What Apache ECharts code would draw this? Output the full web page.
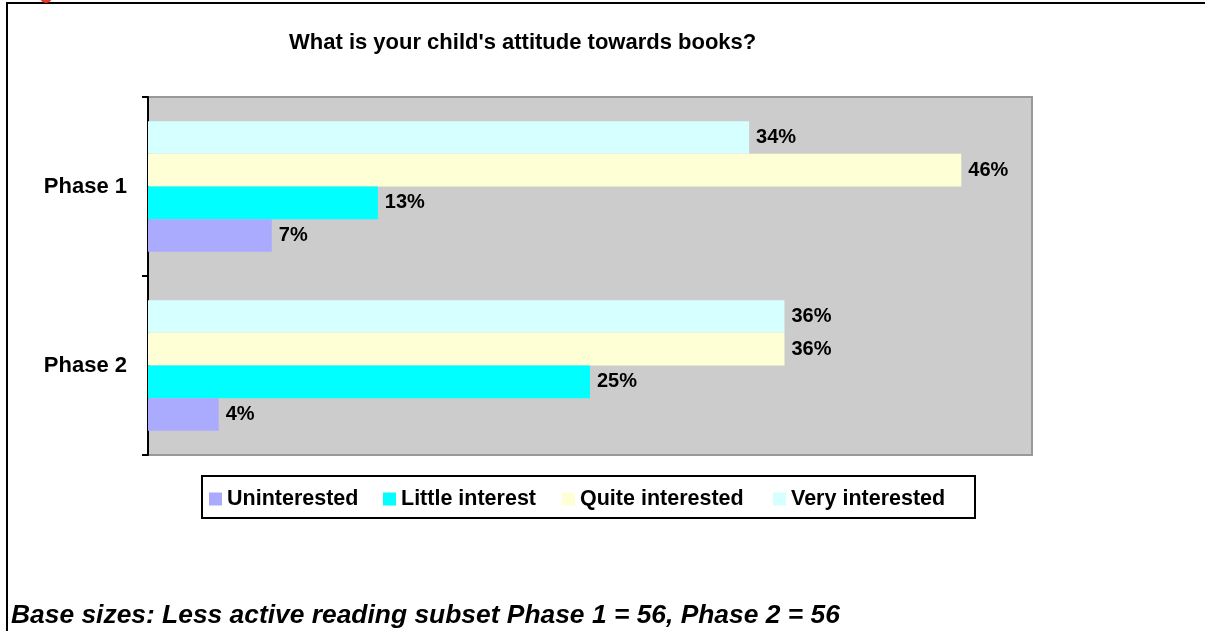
<!DOCTYPE html>
<html>
<head>
<meta charset="utf-8">
<title>What is your child's attitude towards books?</title>
<script src="https://cdn.jsdelivr.net/npm/echarts@6/dist/echarts.min.js"></script>
<style>
  html, body { margin: 0; padding: 0; background: #ffffff; }
  #chart { width: 1205px; height: 631px; }
</style>
</head>
<body>
<div id="chart"></div>
<script>
// Survey answers, percent of parents per phase
const categories = ['Phase 1', 'Phase 2'];
const seriesNames = ['Uninterested', 'Little interest', 'Quite interested', 'Very interested'];
const uninterested = [7, 4];
const littleInterest = [13, 25];
const quiteInterested = [46, 36];
const veryInterested = [34, 36];
const seriesColors = ['#AAAAFF', '#00FFFF', '#FFFFD6', '#D6FFFF'];
// left edge of each legend entry inside the legend box
const legendLefts = [209, 383, 562, 773];

const FONT = '"Liberation Sans", Arial, sans-serif';
const values = [uninterested, littleInterest, quiteInterested, veryInterested];

const chart = echarts.init(document.getElementById('chart'), null, { renderer: 'canvas' });

// the inverted category axis stacks the first series on top, so feed the
// series in reverse to keep "Uninterested" at the bottom of each group
const series = seriesNames.map((name, i) => ({
  name: name,
  type: 'bar',
  data: values[i],
  barGap: '0%',
  barCategoryGap: '27%',
  itemStyle: { color: seriesColors[i] },
  label: {
    show: true,
    position: 'right',
    distance: 7,
    formatter: '{c}%',
    color: '#000',
    fontFamily: FONT,
    fontWeight: 'bold',
    fontSize: 20
  },
  emphasis: { disabled: true },
  animation: false
})).reverse();

const legends = seriesNames.map((name, i) => ({
  data: [name],
  left: legendLefts[i],
  top: 488,
  padding: 0,
  itemWidth: 13,
  itemHeight: 13,
  icon: 'rect',
  selectedMode: false,
  textStyle: { fontFamily: FONT, fontWeight: 'bold', fontSize: 21.5, color: '#000' }
}));

chart.setOption({
  animation: false,
  backgroundColor: '#ffffff',
  title: {
    text: "What is your child's attitude towards books?",
    left: 289,
    top: 32,
    padding: 0,
    textStyle: { fontFamily: FONT, fontWeight: 'bold', fontSize: 22, color: '#000' }
  },
  grid: {
    left: 148,
    top: 97,
    right: 173,
    bottom: 176,
    show: true,
    backgroundColor: '#CCCCCC',
    borderColor: '#999999',
    borderWidth: 2
  },
  xAxis: {
    type: 'value',
    min: 0,
    max: 50,
    show: false
  },
  yAxis: {
    type: 'category',
    data: categories,
    inverse: true,
    axisLine: { show: true, lineStyle: { color: '#000', width: 2 } },
    axisTick: { show: true, length: 6, lineStyle: { color: '#000', width: 2 } },
    axisLabel: {
      margin: 21,
      color: '#000',
      fontFamily: FONT,
      fontWeight: 'bold',
      fontSize: 22
    },
    splitLine: { show: false }
  },
  legend: legends,
  graphic: [
    // outer frame
    {
      type: 'polyline',
      shape: { points: [[7, 640], [7, 3], [1210, 3]] },
      style: { stroke: '#000', lineWidth: 2, fill: null },
      silent: true
    },
    // red corner marker
    {
      type: 'circle',
      shape: { cx: 46, cy: -3, r: 6 },
      style: { fill: '#E8382A' },
      silent: true
    },
    // legend box
    {
      type: 'rect',
      shape: { x: 202, y: 476, width: 773, height: 42 },
      style: { stroke: '#000', lineWidth: 2, fill: null },
      silent: true,
      z: -1
    },
    // base size note
    {
      type: 'text',
      left: 11,
      top: 603,
      style: {
        text: 'Base sizes: Less active reading subset Phase 1 = 56, Phase 2 = 56',
        font: 'italic bold 26.4px ' + FONT,
        fill: '#000'
      },
      silent: true
    }
  ],
  series: series
});
</script>
</body>
</html>
